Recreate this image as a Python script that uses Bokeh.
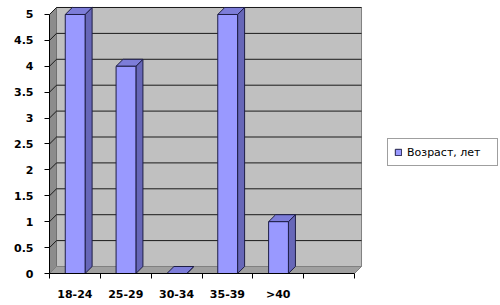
from bokeh.plotting import figure
from bokeh.models import Range1d, FixedTicker, NumeralTickFormatter, Legend, LegendItem
from bokeh.embed import file_html
from bokeh.resources import INLINE

# ---- data ----
categories = ["18-24", "25-29", "30-34", "35-39", ">40"]
values = [5, 4, 0, 5, 1]
series_name = "Возраст, лет"
y_ticks = [0, 0.5, 1, 1.5, 2, 2.5, 3, 3.5, 4, 4.5, 5]

# ---- layout constants ----
N_SLOTS = 6            # category slots on the floor (last one empty)
DX, DY = 0.138, 0.135  # 3D depth offset in data units
BAR_L, BAR_W = 0.31, 0.39
Y_MAX = y_ticks[-1]
X_END, Y_END = 8.872, 5.270

p = figure(width=500, height=305, x_range=Range1d(0, X_END), y_range=Range1d(0, Y_END),
           output_backend="svg", toolbar_location=None,
           min_border_left=49, min_border_right=0, min_border_top=0, min_border_bottom=32)
p.outline_line_color = None
p.grid.visible = False
p.background_fill_color = "white"
p.border_fill_color = "white"

# walls and floor
p.patches(xs=[[DX, N_SLOTS + DX, N_SLOTS + DX, DX]], ys=[[DY, DY, Y_MAX + DY, Y_MAX + DY]],
          fill_color="#C0C0C0", line_color="#808080", line_width=1)
p.patches(xs=[[0, DX, DX, 0]], ys=[[0, DY, Y_MAX + DY, Y_MAX]],
          fill_color="#8C8C8C", line_color="#707070", line_width=1)
p.patches(xs=[[0, N_SLOTS, N_SLOTS + DX, DX]], ys=[[0, 0, DY, DY]],
          fill_color="#A0A0A0", line_color="#808080", line_width=1)

# gridlines
gx, gy = [], []
for v in y_ticks[1:]:
    gx.append([0, DX, N_SLOTS + DX])
    gy.append([v, v + DY, v + DY])
p.multi_line(xs=gx, ys=gy, line_color="#1A1A1A", line_width=1)

# bars
lefts = [i + BAR_L for i in range(len(categories))]
rights = [l + BAR_W for l in lefts]
side_x = [[r, r + DX, r + DX, r] for r in rights]
side_y = [[0, DY, v + DY, v] for v in values]
top_x = [[l, r, r + DX, l + DX] for l, r in zip(lefts, rights)]
top_y = [[v, v, v + DY, v + DY] for v in values]
outline = "#1E1E46"
p.patches(xs=side_x, ys=side_y, fill_color="#6767B8", line_color=outline, line_width=1)
p.patches(xs=top_x, ys=top_y, fill_color="#7D7DD9", line_color=outline, line_width=1)
front = p.quad(left=lefts, right=rights, bottom=0, top=values,
               fill_color="#9999FF", line_color=outline, line_width=1)

# x axis
xa = p.xaxis[0]
xa.ticker = FixedTicker(ticks=[i + 0.5 for i in range(len(categories))],
                        minor_ticks=list(range(N_SLOTS + 1)))
xa.major_label_overrides = {i + 0.5: c for i, c in enumerate(categories)}
xa.bounds = (0, N_SLOTS)
xa.axis_line_color = "#000000"
xa.major_tick_line_color = None
xa.major_tick_out = 0
xa.major_tick_in = 0
xa.minor_tick_line_color = "#000000"
xa.minor_tick_out = 5
xa.minor_tick_in = 0
xa.major_label_standoff = 9
xa.major_label_text_font = "DejaVu Sans"
xa.major_label_text_font_style = "bold"
xa.major_label_text_font_size = "11px"
xa.major_label_text_color = "#000000"

# y axis
ya = p.yaxis[0]
ya.ticker = FixedTicker(ticks=y_ticks, minor_ticks=[])
ya.formatter = NumeralTickFormatter(format="0.[0]")
ya.bounds = (0, Y_MAX)
ya.axis_line_color = "#000000"
ya.major_tick_line_color = "#000000"
ya.major_tick_out = 5
ya.major_tick_in = 0
ya.minor_tick_line_color = None
ya.major_label_standoff = 11
ya.major_label_text_font = "DejaVu Sans"
ya.major_label_text_font_style = "bold"
ya.major_label_text_font_size = "11px"
ya.major_label_text_color = "#000000"

legend = Legend(items=[LegendItem(label=series_name, renderers=[front])],
                location=(338, 107), padding=6, spacing=0, margin=0,
                glyph_width=8, glyph_height=8, label_height=14, label_standoff=5,
                label_text_font="DejaVu Sans", label_text_font_size="11px",
                label_text_color="#000000", label_width=84,
                border_line_color="#404040", border_line_width=1,
                background_fill_color="white", background_fill_alpha=1.0)
p.add_layout(legend)

open("out.html", "w").write(file_html(p, INLINE))
